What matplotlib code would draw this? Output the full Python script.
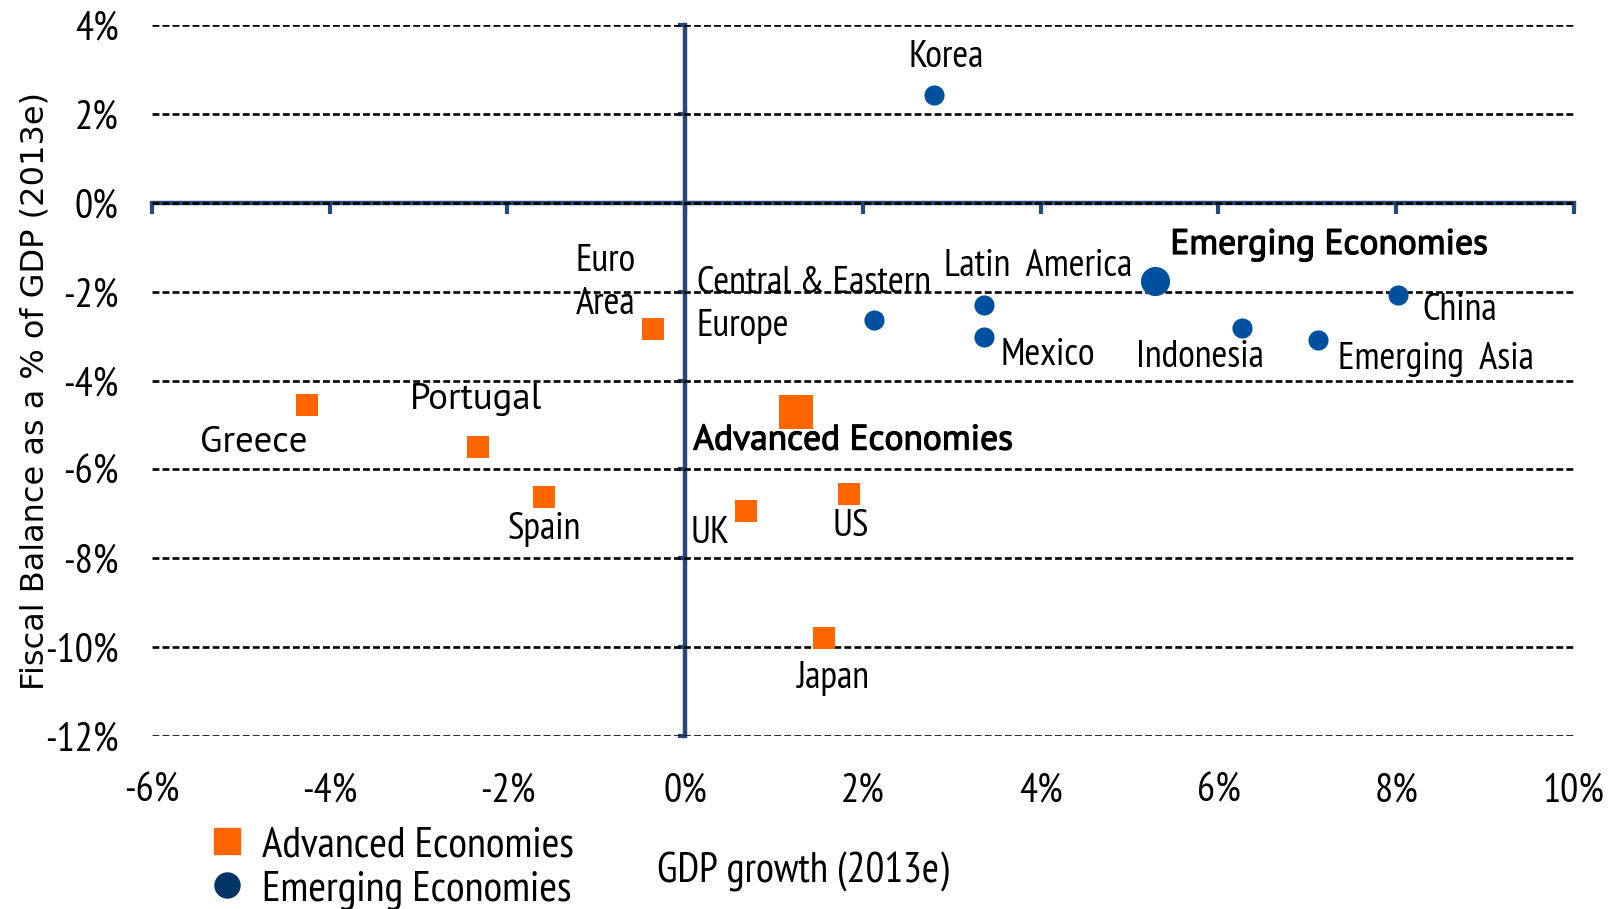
import matplotlib.pyplot as plt
import matplotlib.patheffects as pe
from matplotlib.lines import Line2D

# data (GDP growth %, fiscal balance % of GDP)
adv_names = ['Euro\nArea', 'Greece', 'Portugal', 'Spain', 'UK', 'US', 'Japan']
adv_growth = [-0.36, -4.26, -2.33, -1.59, 0.68, 1.84, 1.56]
adv_balance = [-2.85, -4.54, -5.49, -6.62, -6.94, -6.55, -9.79]
adv_total = (1.25, -4.70)

em_names = ['Korea', 'Central & Eastern\nEurope', 'Latin  America', 'Mexico',
            'Indonesia', 'Emerging  Asia', 'China']
em_growth = [2.80, 2.12, 3.36, 3.36, 6.27, 7.12, 8.02]
em_balance = [2.43, -2.64, -2.29, -3.01, -2.82, -3.08, -2.08]
em_total = (5.29, -1.76)

x_ticks = [-6, -4, -2, 0, 2, 4, 6, 8, 10]
y_ticks = [4, 2, 0, -2, -4, -6, -8, -10, -12]

orange = '#FF6600'
blue = '#0050A0'
navy = '#003366'
axis_col = '#24497A'
narrow = ['PT Sans Narrow', 'Archivo Narrow', 'Roboto Condensed', 'Liberation Sans', 'DejaVu Sans']
wide = ['PT Sans', 'Liberation Sans', 'DejaVu Sans']

# label placement: (dx, dy in pixels, ha, font)
adv_lbl = {
    'Euro\nArea': (-18, 46, 'right', narrow),
    'Greece': (-107, -38, 'left', wide),
    'Portugal': (-68, 47, 'left', wide),
    'Spain': (1, -33, 'center', narrow),
    'UK': (-55, -22, 'left', narrow),
    'US': (2, -33, 'center', narrow),
    'Japan': (9, -41, 'center', narrow),
}
em_lbl = {
    'Korea': (12, 37, 'center'),
    'Central & Eastern\nEurope': (-177, 15, 'left'),
    'Latin  America': (-40, 38, 'left'),
    'Mexico': (17, -19, 'left'),
    'Indonesia': (-106, -29, 'left'),
    'Emerging  Asia': (20, -20, 'left'),
    'China': (24, -15, 'left'),
}

fig = plt.figure(figsize=(16.13, 9.09), dpi=100)
ax = fig.add_axes([0.0942, 0.1903, 0.8816, 0.7822])
ax.set_xlim(-6, 10)
ax.set_ylim(-12, 4)

ax.set_xticks(x_ticks)
ax.set_xticklabels([f'{v}%' for v in x_ticks])
ax.set_yticks(y_ticks)
ax.set_yticklabels([f'{v}%' for v in y_ticks])
for s in ax.spines.values():
    s.set_visible(False)
ax.tick_params(axis='x', length=0, pad=26, labelsize=29)
ax.tick_params(axis='y', length=0, pad=24, labelsize=29)
for lb in ax.get_xticklabels() + ax.get_yticklabels():
    lb.set_family(narrow)
ax.yaxis.grid(True, linestyle=(0, (2.6, 1.2)), color='black', linewidth=1.9)
ax.set_axisbelow(True)

# axes crossing at zero
secx = ax.secondary_xaxis(0.75)
secx.set_alignment('bottom')
secx.set_xticks(x_ticks)
secx.tick_params(labelbottom=False, length=8, width=3, color=axis_col, direction='out')
secx.spines['bottom'].set_linewidth(3.2)
secx.spines['bottom'].set_color(axis_col)

secy = ax.secondary_yaxis(0.375)
secy.set_yticks(y_ticks)
secy.tick_params(labelleft=False, length=5, width=3, color=axis_col, direction='out')
secy.spines['left'].set_linewidth(3.2)
secy.spines['left'].set_color(axis_col)

ax.scatter(adv_growth, adv_balance, marker='s', s=270, color=orange, zorder=5, linewidths=0)
ax.scatter([adv_total[0]], [adv_total[1]], marker='s', s=590, color=orange, zorder=5, linewidths=0)
ax.scatter(em_growth, em_balance, marker='o', s=210, color=blue, zorder=5, linewidths=0)
ax.scatter([em_total[0]], [em_total[1]], marker='o', s=440, color=blue, zorder=5, linewidths=0)

for name, x, y in zip(adv_names, adv_growth, adv_balance):
    dx, dy, ha, fam = adv_lbl[name]
    ax.annotate(name, (x, y), xytext=(dx, dy), textcoords='offset pixels',
                ha=ha, va='center', fontsize=27.5 if fam is narrow else 26.5,
                family=fam, linespacing=1.3)
for name, x, y in zip(em_names, em_growth, em_balance):
    dx, dy, ha = em_lbl[name]
    ax.annotate(name, (x, y), xytext=(dx, dy), textcoords='offset pixels',
                ha=ha, va='center', fontsize=27.5, family=narrow, linespacing=1.3)

# group averages, slightly heavier
heavy = [pe.withStroke(linewidth=0.9, foreground='black')]
ax.annotate('Advanced Economies', adv_total, xytext=(-103, -29), textcoords='offset pixels',
            ha='left', va='center', fontsize=25.5, family=wide, path_effects=heavy)
ax.annotate('Emerging Economies', em_total, xytext=(15, 36), textcoords='offset pixels',
            ha='left', va='center', fontsize=25.5, family=wide, path_effects=heavy)

ax.set_ylabel('Fiscal Balance as a % of GDP (2013e)', fontsize=23, family='DejaVu Sans')
ax.yaxis.set_label_coords(-0.071, 0.485)
fig.text(0.498, 0.041, 'GDP growth (2013e)', ha='center', va='center', fontsize=30, family=narrow)

handles = [Line2D([], [], marker='s', color=orange, ls='none', markersize=19),
           Line2D([], [], marker='o', color=navy, ls='none', markersize=18)]
leg = fig.legend(handles, ['Advanced Economies', 'Emerging Economies'],
                 loc='center left', bbox_to_anchor=(0.113, 0.045), frameon=False,
                 prop={'family': narrow, 'size': 31}, handletextpad=0.25,
                 labelspacing=0.12, borderpad=0, handlelength=1.1)

fig.savefig('out.png', dpi=100)
